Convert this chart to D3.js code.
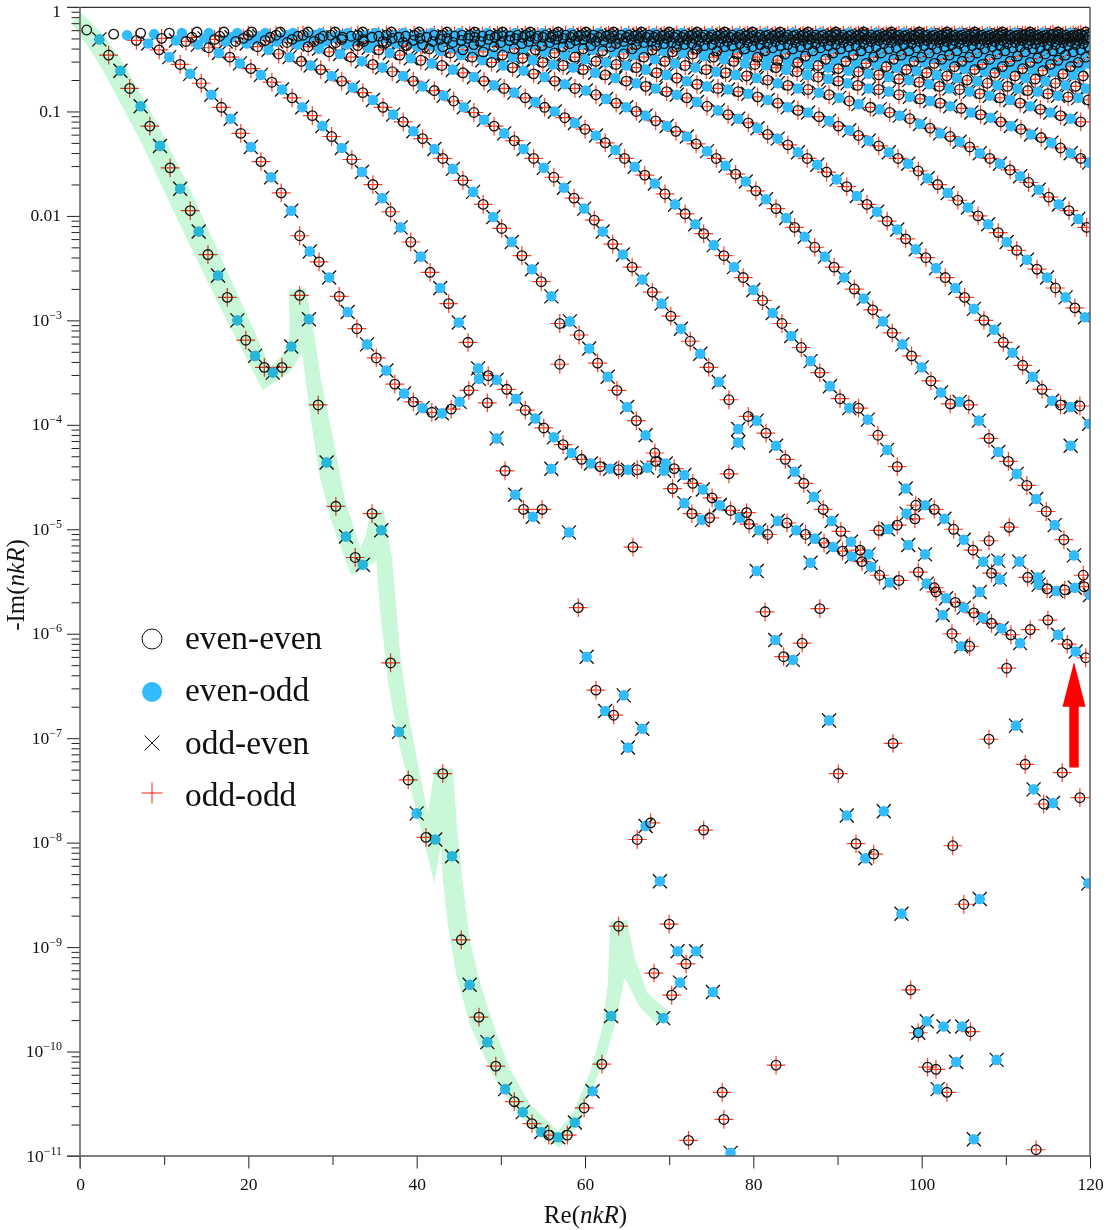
<!DOCTYPE html>
<html><head><meta charset="utf-8"><style>
html,body{margin:0;padding:0;background:#fff}
svg{display:block;font-family:"Liberation Serif",serif}
</style><script src="https://cdnjs.cloudflare.com/ajax/libs/d3/7.8.5/d3.min.js"></script></head><body><div id="chart"></div><script>
// Values. xN: Re(nkR) in tenths. eN: -log10(-Im(nkR)) in hundredths.
// Along each branch the points alternate between the (even-even, odd-odd) pair and the (even-odd, odd-even) pair.
const x1=[8,23,34,48,59,72,83,95,107,119,131,141,152,164,175,187,197,208,219,229,240,251,261,272,283,293,304,316,327,336,347,358,369,379,390,400,411,422,431,442,453,463,474,484,494,505,516,526,537,548,557,568,579,588,599,609,620,631,640];
const e1=[22,31,46,61,78,95,114,133,154,174,195,215,237,257,278,300,319,334,345,350,345,325,276,299,381,436,478,507,527,534,485,501,628,694,740,772,795,797,734,813,893,936,967,991,1014,1036,1048,1058,1069,1077,1080,1082,1080,1068,1054,1038,1012,966,880];
const x2=[40,56,67,81,94,106,119,131,144,156,168,179,191,203,215,227,239,251,261,273,284,296,308,318,329,341,352,364,374,385,396,407,418,430,441,451,462,474,485,495,507,518,529,541,551,563,574,584,596,607,618,630,640,651,662,674,684,696,706,718,728,740,751,760,773,784,795,807,817,829,840,851,862,873,884,895,906,917,929,940,950,962,973,984,996,1006,1017,1029,1040,1050,1062,1073,1083,1095,1106,1117,1129,1139,1150,1162,1173,1183,1195];
const e2=[26,27,32,35,41,48,55,64,73,84,96,107,121,134,148,163,178,195,219,234,244,259,277,292,308,323,336,348,361,370,378,384,388,389,385,378,367,356,353,357,366,375,386,394,403,412,419,427,433,437,440,442,443,443,443,441,435,437,442,448,456,462,470,477,482,489,495,501,505,492,494,501,505,509,513,517,521,526,531,536,544,551,549,515,541,552,560,566,570,575,580,585,590,595,601,609,596,553,587,601,610,617,623];
const x3=[72,88,97,114,126,140,153,165,178,190,203,215,228,240,252,264,276,288,299,311,323,335,348,359,369,381,393,405,416,428,438,450,461,473,484,495,505,517,527,538,549,560,570];
const e3=[25,26,30,32,33,36,39,44,48,54,59,65,72,79,87,96,104,114,124,135,146,158,170,183,196,211,225,239,254,269,284,302,321,346,379,413,444,467,481,488,481,442,342];
const x4=[106,121,133,148,160,173,185,198,211,224,236,249,263,274,286,299,311,324,336,348,360,372,384,396,407,421,431,443,455,467,479,491,501,513,525,537,548,560,570,582,593,605,615,627,638,650,661,672,683,694,704,718,727,739,748,760,771,782,794,804,815,827,838,849,860,872,883,893,904,916,927,937,949,960,971,982,992,1004];
const e4=[25,25,29,30,31,33,33,35,38,41,45,48,52,56,60,66,71,77,82,89,96,103,110,119,126,136,145,155,166,177,189,201,212,225,238,251,263,277,303,301,314,327,341,354,367,383,396,410,427,444,461,475,485,491,489,477,447,417,392,396,408,420,433,445,456,469,481,492,502,512,520,524,501,500,496,485,490,524];
const x5=[139,153,166,180,194,207,220,233,246,258,271,284,296,309,322,335,348,359,371,384,396,407,421,432,444,456,468,480,492,504,516,527,539,551,563,575,587,599,611,621,633,645,656,668,680,691,702,714,725,737,747,759,771,782,792,804,814,826,836,847,858,868,879,890,901,911,922,933,943,955,966,976,987];
const e5=[24,25,28,29,30,31,32,33,34,36,38,40,43,45,48,52,55,58,62,66,71,76,80,85,90,96,101,108,114,121,128,136,145,154,163,173,183,193,204,215,227,237,249,261,273,284,296,308,320,332,345,359,376,404,484,540,579,606,622,625,609,532,576,683,734,774,801,815,811,770,705,868,941];
const x6=[171,187,200,213,226,239,252,265,278,291,304,317,330,343,355,368,380,393,405,418,430,443,455,468,480,492,504,516,529,541,552,564,576,588,600,613,624,636,647,659,671,683,695,707,719,731,741,753,765,777,788,800,811,823,834,845,857,868,879,891,903,914,925,936,948,959,971,981,993,1004,1015,1027,1038,1050,1061,1073,1083,1093,1104,1116,1126,1138,1149,1160,1170,1182,1193,1200];
const e6=[24,25,27,28,29,30,31,32,33,33,34,36,37,39,41,44,46,49,51,54,56,60,63,67,71,75,78,82,87,91,96,100,106,111,117,123,130,137,145,153,161,169,179,189,198,208,217,228,238,249,259,271,281,293,303,315,326,339,350,363,375,384,384,395,410,424,440,461,477,477,481,490,500,510,520,531,542,548,498,531,546,546,557,559,558,556,555,563];
const x7=[204,220,233,246,259,272,285,298,311,324,337,350,364,377,388,402,415,428,440,453,466,478,489,503,514,527,539,552,564,576,588,601,613,625,637,649,661,672,684,697,708,721,732,745,756,767,779,791,803,815,827,839,849,861,873,885,896,908,920,931,942,954,965,977,988,1000,1011,1023,1034,1045,1056,1068,1080,1091,1103,1113,1125,1136,1148,1158,1169,1181,1192];
const e7=[24,25,27,27,28,29,30,30,31,32,33,33,34,35,37,38,40,42,44,46,48,51,53,56,58,61,64,67,71,74,78,80,84,88,92,96,100,104,109,114,119,124,131,138,145,152,160,167,176,184,193,202,211,220,230,239,249,259,270,279,290,301,312,323,334,345,358,369,380,378,381,396,413,426,435,447,458,471,483,496,510,525,544];
const x8=[238,253,265,277,289,301,312,324,336,348,360,372,384,396,407,419,431,443,455,467,479,491,502,514,526,538,550,562,574,586,598,612,624,636,649,661,672,684,697,709,721,733,745,758,770,782,794,805,817,829,841,853,864,876,887,899,911,923,935,947,959,971,981,993,1005,1017,1028,1040,1051,1062,1074,1086,1097,1108,1120,1132,1143,1155,1165,1177,1188,1199];
const e8=[24,25,27,27,28,29,29,30,31,32,33,33,34,35,36,37,38,39,41,42,43,45,46,48,49,51,53,55,56,58,60,63,65,68,71,73,76,78,81,84,87,91,95,99,103,107,111,116,122,126,132,139,145,151,158,165,172,181,189,196,205,213,222,232,240,250,259,269,278,289,300,309,321,331,343,354,366,377,381,383,382,399];
const x9=[271,286,298,310,322,335,347,359,371,383,396,407,419,431,443,455,468,480,492,504,516,527,541,552,564,576,588,600,613,625,637,649,661,672,685,697,709,721,733,745,758,770,782,794,805,817,829,841,853,865,878,890,901,914,925,937,949,961,972,984,996,1007,1019,1031,1043,1055,1067,1079,1091,1101,1113,1125,1137,1149,1159,1171,1182,1194];
const e9=[24,25,27,27,28,28,29,30,30,31,32,32,33,33,34,35,36,37,38,39,40,40,41,43,44,46,48,50,52,53,55,56,58,60,63,65,68,71,74,76,78,79,81,83,86,89,92,96,99,101,105,109,114,118,123,128,133,139,145,150,157,164,170,178,185,192,200,208,216,225,233,242,251,259,269,278,288,297];
const x10=[303,318,330,342,355,367,379,391,404,416,428,440,453,465,476,488,500,513,525,537,549,561,574,586,598,609,621,634,646,658,670,683,695,707,719,731,744,756,767,779,792,804,817,829,841,853,865,878,890,902,914,925,939,950,962,974,986,998,1010,1022,1034,1045,1057,1069,1081,1093,1105,1117,1127,1139,1151,1163,1175,1186,1196];
const e10=[24,25,27,27,28,28,29,29,30,30,31,31,32,32,33,33,34,35,35,36,37,37,38,39,40,41,42,43,45,46,48,50,52,54,56,58,60,62,63,65,66,68,70,73,75,78,79,82,84,87,90,93,96,98,101,104,107,112,116,121,124,129,134,140,145,150,156,162,168,175,182,189,195,203,211];
const x11=[336,352,364,375,387,400,412,424,436,449,461,473,485,498,510,522,533,546,558,570,582,595,607,619,631,644,656,668,680,693,704,716,728,741,753,765,777,790,802,815,827,839,852,864,877,889,901,912,924,937,949,961,973,986,998,1010,1022,1034,1047,1059,1070,1082,1094,1106,1118,1130,1142,1154,1165,1177,1189,1199];
const e11=[24,25,27,27,28,28,29,29,30,30,30,31,31,32,32,33,33,33,34,35,35,36,37,37,38,39,40,41,41,42,43,44,45,47,48,50,52,54,55,56,58,60,62,65,67,69,71,73,75,78,79,81,84,86,88,90,92,95,97,101,103,106,110,114,117,122,125,130,135,140,145,149];
const x12=[370,385,397,409,421,433,445,457,469,481,493,505,517,529,541,553,565,577,589,601,613,625,637,649,661,673,685,697,709,721,733,745,757,769,781,793,805,817,829,841,853,865,877,889,901,913,925,937,949,961,973,985,997,1009,1021,1033,1045,1057,1069,1081,1093,1105,1117,1129,1141,1153,1165,1177,1189];
const e12=[24,25,27,27,27,28,28,28,29,29,29,29,30,30,30,31,31,32,32,33,33,34,35,35,36,37,37,38,38,39,40,41,42,43,45,46,48,49,51,52,53,55,56,58,59,61,62,64,65,67,69,70,72,74,76,78,79,81,83,85,87,89,92,95,98,101,104,107,110];
const x13=[403,418,430,442,454,466,478,490,502,514,526,538,550,562,574,586,598,610,622,634,646,658,670,682,694,706,718,730,742,754,766,778,790,802,814,826,838,850,862,874,886,898,910,922,934,946,958,970,982,994,1006,1018,1030,1042,1054,1066,1078,1090,1102,1114,1126,1138,1150,1162,1174,1186,1198];
const e13=[24,25,27,27,27,27,28,28,28,28,29,29,29,30,30,30,31,31,32,32,33,33,34,34,35,35,36,36,37,38,38,39,40,41,42,43,45,46,47,48,50,51,52,54,54,55,57,58,60,61,63,65,66,68,70,71,73,75,76,78,80,81,83,85,86,87,89];
const x14=[436,451,463,475,487,499,511,523,535,547,559,571,583,595,607,619,631,643,655,667,679,691,703,715,727,739,751,763,775,787,799,811,823,835,847,859,871,883,895,907,919,931,943,955,967,979,991,1003,1015,1027,1039,1051,1063,1075,1087,1099,1111,1123,1135,1147,1159,1171,1183,1195];
const e14=[24,25,27,27,27,27,28,28,28,28,29,29,29,29,30,30,30,31,31,32,33,33,34,34,35,35,36,36,37,37,38,39,39,40,40,41,42,43,44,45,46,47,48,49,50,51,52,53,54,56,57,59,60,62,63,64,66,68,69,71,73,75,76,78];
const x15=[469,484,496,508,520,532,544,556,568,580,592,604,616,628,640,652,664,676,688,700,712,724,736,748,760,772,784,796,808,820,832,844,856,868,880,892,904,916,928,940,952,964,976,988,1000,1012,1024,1036,1048,1060,1072,1084,1096,1108,1120,1132,1144,1156,1168,1180,1192];
const e15=[24,25,27,27,27,27,28,28,28,28,28,29,29,29,30,30,30,31,31,31,32,33,33,34,34,35,35,36,36,37,37,38,38,39,39,40,40,41,42,43,44,45,46,47,48,49,50,51,52,53,55,56,57,58,59,60,61,62,64,65,66];
const x16=[502,517,529,541,553,565,577,589,601,613,625,637,649,661,673,685,697,709,721,733,745,757,769,781,793,805,817,829,841,853,865,877,889,901,913,925,937,949,961,973,985,997,1009,1021,1033,1045,1057,1069,1081,1093,1105,1117,1129,1141,1153,1165,1177,1189];
const e16=[24,25,27,27,27,27,27,28,28,28,28,29,29,29,29,30,30,30,31,31,31,32,33,33,34,34,35,35,36,36,36,37,37,38,38,39,39,40,40,41,42,43,44,45,46,47,48,49,50,51,52,53,53,54,55,56,57,58];
const x17=[535,550,562,574,586,598,610,622,634,646,658,670,682,694,706,718,730,742,754,766,778,790,802,814,826,838,850,862,874,886,898,910,922,934,946,958,970,982,994,1006,1018,1030,1042,1054,1066,1078,1090,1102,1114,1126,1138,1150,1162,1174,1186,1198];
const e17=[24,25,27,27,27,27,27,28,28,28,28,29,29,29,29,30,30,30,31,31,31,32,32,32,33,33,34,34,35,35,36,36,37,37,38,38,39,39,39,40,40,41,42,43,44,44,45,46,47,48,49,50,51,52,53,54];
const x18=[568,583,595,607,619,631,643,655,667,679,691,703,715,727,739,751,763,775,787,799,811,823,835,847,859,871,883,895,907,919,931,943,955,967,979,991,1003,1015,1027,1039,1051,1063,1075,1087,1099,1111,1123,1135,1147,1159,1171,1183,1195];
const e18=[24,25,27,27,27,27,27,28,28,28,28,28,29,29,29,29,30,30,30,31,31,31,31,32,32,32,33,33,34,34,35,35,35,36,36,37,37,38,38,39,39,40,40,41,42,42,43,44,45,45,46,47,48];
const x19=[601,616,628,640,652,664,676,688,700,712,724,736,748,760,772,784,796,808,820,832,844,856,868,880,892,904,916,928,940,952,964,976,988,1000,1012,1024,1036,1048,1060,1072,1084,1096,1108,1120,1132,1144,1156,1168,1180,1192];
const e19=[24,25,27,27,27,27,27,28,28,28,28,28,29,29,29,29,30,30,30,30,31,31,31,31,32,32,32,33,33,33,34,34,35,35,36,36,36,37,37,38,38,39,39,40,40,41,42,42,43,44];
const x20=[634,649,661,673,685,697,709,721,733,745,757,769,781,793,805,817,829,841,853,865,877,889,901,913,925,937,949,961,973,985,997,1009,1021,1033,1045,1057,1069,1081,1093,1105,1117,1129,1141,1153,1165,1177,1189];
const e20=[24,25,27,27,27,27,27,28,28,28,28,28,29,29,29,29,29,30,30,30,30,31,31,31,31,32,32,32,32,33,33,34,34,35,35,35,36,36,37,37,38,38,39,39,40,40,41];
const x21=[667,682,694,706,718,730,742,754,766,778,790,802,814,826,838,850,862,874,886,898,910,922,934,946,958,970,982,994,1006,1018,1030,1042,1054,1066,1078,1090,1102,1114,1126,1138,1150,1162,1174,1186,1198];
const e21=[24,25,27,27,27,27,27,27,28,28,28,28,28,29,29,29,29,29,30,30,30,30,31,31,31,31,31,32,32,32,33,33,33,34,34,35,35,35,36,36,37,37,37,38,38];
const x22=[700,715,727,739,751,763,775,787,799,811,823,835,847,859,871,883,895,907,919,931,943,955,967,979,991,1003,1015,1027,1039,1051,1063,1075,1087,1099,1111,1123,1135,1147,1159,1171,1183,1195];
const e22=[24,25,27,27,27,27,27,27,28,28,28,28,28,29,29,29,29,29,30,30,30,30,30,31,31,31,31,31,32,32,32,33,33,33,34,34,35,35,36,36,36,37];
const x23=[733,748,760,772,784,796,808,820,832,844,856,868,880,892,904,916,928,940,952,964,976,988,1000,1012,1024,1036,1048,1060,1072,1084,1096,1108,1120,1132,1144,1156,1168,1180,1192];
const e23=[24,25,27,27,27,27,27,27,28,28,28,28,28,28,29,29,29,29,29,30,30,30,30,30,31,31,31,31,31,32,32,32,32,33,33,33,34,34,35];
const x24=[766,781,793,805,817,829,841,853,865,877,889,901,913,925,937,949,961,973,985,997,1009,1021,1033,1045,1057,1069,1081,1093,1105,1117,1129,1141,1153,1165,1177,1189];
const e24=[24,25,27,27,27,27,27,27,28,28,28,28,28,28,29,29,29,29,29,30,30,30,30,30,31,31,31,31,31,32,32,32,32,33,33,33];
const x25=[799,814,826,838,850,862,874,886,898,910,922,934,946,958,970,982,994,1006,1018,1030,1042,1054,1066,1078,1090,1102,1114,1126,1138,1150,1162,1174,1186,1198];
const e25=[24,25,27,27,27,27,27,27,27,28,28,28,28,28,28,29,29,29,29,29,29,30,30,30,30,30,31,31,31,31,31,32,32,32];
const x26=[832,847,859,871,883,895,907,919,931,943,955,967,979,991,1003,1015,1027,1039,1051,1063,1075,1087,1099,1111,1123,1135,1147,1159,1171,1183,1195];
const e26=[24,25,27,27,27,27,27,27,27,28,28,28,28,28,28,29,29,29,29,29,29,30,30,30,30,30,30,31,31,31,31];
const x27=[865,880,892,904,916,928,940,952,964,976,988,1000,1012,1024,1036,1048,1060,1072,1084,1096,1108,1120,1132,1144,1156,1168,1180,1192];
const e27=[24,25,27,27,27,27,27,27,27,28,28,28,28,28,28,28,29,29,29,29,29,29,29,30,30,30,30,30];
const x28=[898,913,925,937,949,961,973,985,997,1009,1021,1033,1045,1057,1069,1081,1093,1105,1117,1129,1141,1153,1165,1177,1189];
const e28=[24,25,27,27,27,27,27,27,27,27,28,28,28,28,28,28,28,29,29,29,29,29,29,29,30];
const x29=[931,946,958,970,982,994,1006,1018,1030,1042,1054,1066,1078,1090,1102,1114,1126,1138,1150,1162,1174,1186,1198];
const e29=[24,25,27,27,27,27,27,27,27,27,28,28,28,28,28,28,28,28,29,29,29,29,29];
const x30=[964,979,991,1003,1015,1027,1039,1051,1063,1075,1087,1099,1111,1123,1135,1147,1159,1171,1183,1195];
const e30=[24,25,27,27,27,27,27,27,27,27,28,28,28,28,28,28,28,28,28,29];
const x31=[997,1012,1024,1036,1048,1060,1072,1084,1096,1108,1120,1132,1144,1156,1168,1180,1192];
const e31=[24,25,27,27,27,27,27,27,27,27,27,28,28,28,28,28,28];
const x32=[1030,1045,1057,1069,1081,1093,1105,1117,1129,1141,1153,1165,1177,1189];
const e32=[24,25,27,27,27,27,27,27,27,27,27,28,28,28];
const x33=[1063,1078,1090,1102,1114,1126,1138,1150,1162,1174,1186,1198];
const e33=[24,25,27,27,27,27,27,27,27,27,27,28];
const x34=[1096,1111,1123,1135,1147,1159,1171,1183,1195];
const e34=[24,25,27,27,27,27,27,27,27];
const x35=[1129,1144,1156,1168,1180,1192];
const e35=[24,25,26,27,27,27];
const x36=[1162,1177,1189];
const e36=[24,25,26];
const x37=[1195];
const e37=[24];
// Isolated points
const looseCircleX=[657,592,613,634,678,662,741,700,720,682,703,827,763,765,723,996,1007,1017,1030,1058,1037,1050,1136,1080,1123,1167,1145,1188,1101,1057,1036,1080,1015];
const looseCircleE=[517,575,654,678,781,797,788,878,916,925,946,1013,1039,1065,1085,982,1015,1017,1039,981,803,859,1094,701,725,733,763,757,633,612,600,511,556];
const looseDiscX=[581,602,646,624,668,651,672,689,710,732,713,752,693,773,1006,996,1026,1048,1041,1089,1019,1062,1069,1198,1112,1133,1156,1025,1047,1091,1069,1177];
const looseDiscE=[503,622,659,674,691,709,784,837,904,904,934,943,968,1097,971,982,976,976,1010,1008,1036,1084,854,839,688,749,762,582,612,530,560,420];
// Highlight ribbon outline, same units
const bandX=[2,26,48,68,88,109,131,154,178,202,226,241,249,249,248,268,277,287,301,315,333,340,345,361,371,380,390,404,413,417,421,443,448,455,463,476,493,511,535,568,586,606,621,627,630,650,659,674,700,685,665,647,638,626,609,590,570,543,519,492,463,447,437,431,429,421,400,380,366,356,352,349,322,297,285,273,264,249,217,191,165,140,115,93,71,50,31,12,-10];
const bandE=[6,25,49,77,106,139,175,216,259,301,345,333,316,293,271,269,307,360,414,472,518,505,482,482,529,617,676,735,771,754,729,729,786,840,893,936,979,1017,1051,1076,1058,1020,976,936,876,874,910,944,962,974,957,929,966,1002,1035,1072,1092,1079,1058,1025,974,926,878,835,802,839,771,709,647,573,529,532,544,488,450,389,331,350,367,326,285,244,202,164,127,95,66,41,15];
const arrowX=118.1, arrowTipE=627, arrowNeckE=670, arrowTailE=728;
const xMajorTicks=[0,20,40,60,80,100,120];
const xMinorTicks=[10,30,50,70,90,110];
const yDecades=[0,1,2,3,4,5,6,7,8,9,10,11];
const yPlainLabels=["1","0.1","0.01"];
const minorFactors=[2,3,4,5,6,7,8,9];
const legendNames=["even-even","even-odd","odd-even","odd-odd"];

const xs=[x1,x2,x3,x4,x5,x6,x7,x8,x9,x10,x11,x12,x13,x14,x15,x16,x17,x18,x19,x20,x21,x22,x23,x24,x25,x26,x27,x28,x29,x30,x31,x32,x33,x34,x35,x36,x37];
const es=[e1,e2,e3,e4,e5,e6,e7,e8,e9,e10,e11,e12,e13,e14,e15,e16,e17,e18,e19,e20,e21,e22,e23,e24,e25,e26,e27,e28,e29,e30,e31,e32,e33,e34,e35,e36,e37];
const evenEven=[],evenOdd=[],oddEven=[],oddOdd=[];
const pt=(a,b)=>({x:a/10,y:Math.pow(10,-b/100)});
xs.forEach((arr,k)=>{const skip=k===0?1:2;
  arr.forEach((v,i)=>{if(es[k][i]===undefined)return;const p=pt(v,es[k][i]);
    if(i%2===0){evenEven.push(p);if(i>=skip)oddOdd.push(p);}
    else{evenOdd.push(p);if(i>=skip)oddEven.push(p);}
  });});
looseCircleX.forEach((v,i)=>{const p=pt(v,looseCircleE[i]);evenEven.push(p);oddOdd.push(p);});
looseDiscX.forEach((v,i)=>{const p=pt(v,looseDiscE[i]);evenOdd.push(p);oddEven.push(p);});

const W=1107,H=1230,L=80,R=1090,T=7,B=1156;
const xScale=d3.scaleLinear().domain([0,120]).range([L,R]);
const yScale=d3.scaleLog().domain([1e-11,1]).range([B,T]);
const svg=d3.select("#chart").append("svg").attr("width",W).attr("height",H).style("background","#fff");
svg.append("defs").append("clipPath").attr("id","plot").append("rect").attr("x",40).attr("y",0).attr("width",R-40).attr("height",B);
const g=svg.append("g").attr("clip-path","url(#plot)");
const BLUE="#33bbff",RED="#ff3b1e";
g.append("g").selectAll("path").data(oddOdd).join("path")
 .attr("d","M-9.4,0H9.4M0,-9.4V9.4").attr("transform",d=>`translate(${xScale(d.x)},${yScale(d.y)})`)
 .attr("stroke",RED).attr("stroke-width",1.2).attr("fill","none");
g.append("g").selectAll("path").data(oddEven).join("path")
 .attr("d","M-7,-7L7,7M-7,7L7,-7").attr("transform",d=>`translate(${xScale(d.x)},${yScale(d.y)})`)
 .attr("stroke","#111").attr("stroke-width",1.3).attr("fill","none");
g.append("g").selectAll("circle").data(evenOdd).join("circle")
 .attr("cx",d=>xScale(d.x)).attr("cy",d=>yScale(d.y)).attr("r",5.3).attr("fill",BLUE);
g.append("g").selectAll("circle").data(evenEven).join("circle")
 .attr("cx",d=>xScale(d.x)).attr("cy",d=>yScale(d.y)).attr("r",4.8).attr("fill","none").attr("stroke","#111").attr("stroke-width",1.3);
// ribbon
const bandPts=bandX.map((v,i)=>[xScale(v/10),yScale(Math.pow(10,-bandE[i]/100))]);
svg.append("path").attr("d",d3.line().curve(d3.curveLinear)(bandPts)+"Z").attr("fill","#c8f8d8").style("mix-blend-mode","multiply");
// arrow
const ax=xScale(arrowX),yy=e=>yScale(Math.pow(10,-e/100));
svg.append("path").attr("fill","#ff0000").attr("d",`M${ax},${yy(arrowTipE)}L${ax+11.5},${yy(arrowNeckE)}H${ax+4.7}V${yy(arrowTailE)}H${ax-4.7}V${yy(arrowNeckE)}H${ax-11.5}Z`);
// axes
const yMajor=yDecades.map(d=>Math.pow(10,-d));
const yMinor=[];yDecades.slice(1).forEach(d=>minorFactors.forEach(f=>yMinor.push(f*Math.pow(10,-d))));
const yMinorG=svg.append("g").attr("transform",`translate(${L},0)`).call(d3.axisLeft(yScale).tickValues(yMinor).tickSize(8.5).tickFormat(""));
const yMajorG=svg.append("g").attr("transform",`translate(${L},0)`).call(d3.axisLeft(yScale).tickValues(yMajor).tickSize(13).tickFormat(""));
const xMinorG=svg.append("g").attr("transform",`translate(0,${B})`).call(d3.axisBottom(xScale).tickValues(xMinorTicks).tickSize(9).tickFormat(""));
const xMajorG=svg.append("g").attr("transform",`translate(0,${B})`).call(d3.axisBottom(xScale).tickValues(xMajorTicks).tickSize(12.5).tickFormat(d=>d).tickPadding(9));
[yMinorG,yMajorG,xMinorG,xMajorG].forEach(a=>{a.select(".domain").remove();a.selectAll("line").attr("stroke","#222").attr("stroke-width",1);});
xMajorG.selectAll("text").attr("font-family","Liberation Serif").attr("font-size",17.5).attr("fill","#111");
const frame=svg.append("g").attr("fill","none");
frame.append("line").attr("x1",L-13).attr("x2",R).attr("y1",T+.3).attr("y2",T+.3).attr("stroke","#333").attr("stroke-width",1.2);
frame.append("line").attr("x1",L-13).attr("x2",R).attr("y1",B).attr("y2",B).attr("stroke","#555").attr("stroke-width",1.3);
frame.append("line").attr("x1",L).attr("x2",L).attr("y1",T).attr("y2",B+12.5).attr("stroke","#666").attr("stroke-width",1.6);
frame.append("line").attr("x1",R).attr("x2",R).attr("y1",T).attr("y2",B).attr("stroke","#666").attr("stroke-width",1.6);
// y tick labels
const lab=svg.append("g").attr("font-size",17.5).attr("fill","#111");
yDecades.forEach(d=>{
  const yp=yScale(Math.pow(10,-d));
  if(d<3){lab.append("text").attr("x",61).attr("y",d===0?yp+9.5:yp+5.5).attr("text-anchor","end").text(yPlainLabels[d]);}
  else{const t=lab.append("text").attr("x",62).attr("y",yp+5.5).attr("text-anchor","end");
    t.append("tspan").text("10");
    t.append("tspan").attr("font-size",12).attr("dy",-7).text("\u2212"+d);}
});
// titles
const title=(sel)=>{sel.append("tspan").text("(");sel.append("tspan").attr("font-style","italic").text("nkR");sel.append("tspan").text(")");};
const tx=svg.append("text").attr("x",585.5).attr("y",1223).attr("text-anchor","middle").attr("font-size",25).attr("fill","#111");
tx.append("tspan").text("Re");title(tx);
const ty=svg.append("text").attr("transform","translate(24,585) rotate(-90)").attr("text-anchor","middle").attr("font-size",25).attr("fill","#111");
ty.append("tspan").text("-Im");title(ty);
// legend
const lx=152,ly=[639,692,743,793],tb=[648.5,700.5,753.5,805.5];
svg.append("circle").attr("cx",lx).attr("cy",ly[0]).attr("r",10).attr("fill","#fff").attr("stroke","#111").attr("stroke-width",1);
svg.append("circle").attr("cx",lx).attr("cy",ly[1]).attr("r",10).attr("fill",BLUE);
svg.append("path").attr("transform",`translate(${lx},${ly[2]})`).attr("d","M-7.5,-7.5L7.5,7.5M-7.5,7.5L7.5,-7.5").attr("stroke","#111").attr("stroke-width",1).attr("fill","none");
svg.append("path").attr("transform",`translate(${lx},${ly[3]})`).attr("d","M-10.5,0H10.5M0,-10.5V10.5").attr("stroke","#ff2010").attr("stroke-width",1).attr("fill","none");
legendNames.forEach((n,i)=>svg.append("text").attr("x",185).attr("y",tb[i]).attr("font-size",33.4).attr("fill","#111").text(n));
</script></body></html>
